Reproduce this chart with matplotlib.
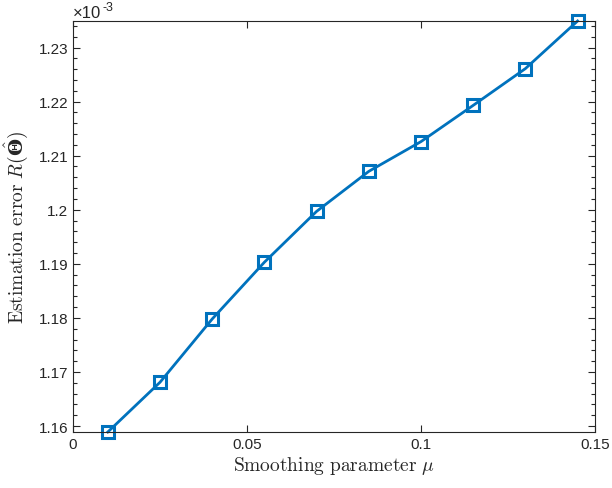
import numpy as np
import matplotlib.pyplot as plt
from matplotlib.ticker import MultipleLocator

mu = [0.01, 0.025, 0.04, 0.055, 0.07, 0.085, 0.1, 0.115, 0.13, 0.145]
err = [1.1589, 1.1681, 1.1798, 1.1903, 1.1997, 1.2071, 1.2126, 1.2193, 1.2261, 1.2349]  # x 1e-3

plt.rcParams['font.family'] = ['Liberation Sans', 'DejaVu Sans']
plt.rcParams['mathtext.fontset'] = 'custom'
plt.rcParams['mathtext.rm'] = 'cmr10'
plt.rcParams['mathtext.it'] = 'cmmi10'
plt.rcParams['mathtext.bf'] = 'DejaVu Serif:bold'

fig = plt.figure(figsize=(6.12, 4.89), dpi=100)
ax = fig.add_axes([0.1193, 0.1145, 0.8529, 0.8405])

ax.plot(mu, err, color='#0072BD', lw=2, marker='s', ms=9, mew=2.2, mfc='none', clip_on=False)

ax.set_xlim(0, 0.15)
ax.set_ylim(min(err), max(err))
ax.set_xticks([0, 0.05, 0.1, 0.15])
ax.set_xticklabels(['0', '0.05', '0.1', '0.15'])
ax.set_yticks([1.16, 1.17, 1.18, 1.19, 1.2, 1.21, 1.22, 1.23])
ax.set_yticklabels(['1.16', '1.17', '1.18', '1.19', '1.2', '1.21', '1.22', '1.23'])
ax.yaxis.set_minor_locator(MultipleLocator(0.002))

ax.tick_params(which='both', direction='in', top=True, right=True,
               colors='#262626', labelsize=11, width=0.8)
ax.tick_params(which='major', length=5)
ax.tick_params(which='minor', length=3)
ax.tick_params(axis='x', which='minor', top=False, bottom=False)
for s in ax.spines.values():
    s.set_color('#262626')
    s.set_linewidth(0.8)

ax.set_xlabel(r'$\mathrm{Smoothing\ parameter}\ \mu$', fontsize=14, color='#262626', labelpad=2)
ax.set_ylabel(r'$\mathrm{Estimation\ error}\ R(\hat{\mathbf{\Theta}})$', fontsize=14, color='#262626', labelpad=6)

ax.text(0.0, 1.002, '×10', transform=ax.transAxes, fontsize=12,
        color='#262626', ha='left', va='bottom')
ax.text(0.057, 1.02, '-3', transform=ax.transAxes, fontsize=9,
        color='#262626', ha='left', va='bottom')

fig.savefig('out.png', dpi=100)
